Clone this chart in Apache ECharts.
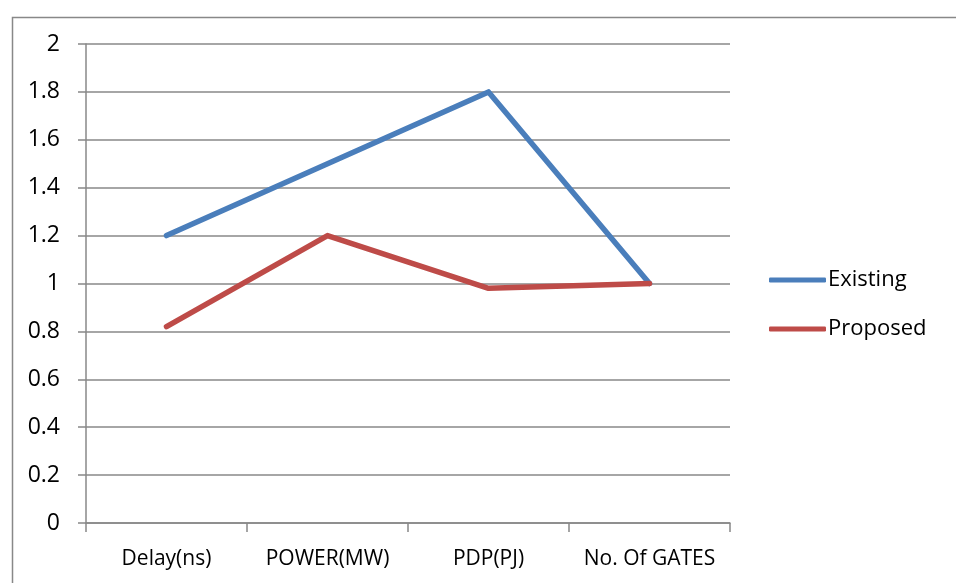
<!DOCTYPE html>
<html>
<head>
<meta charset="utf-8">
<script src="https://cdn.jsdelivr.net/npm/echarts@6/dist/echarts.min.js"></script>
<style>html,body{margin:0;padding:0;background:#fff}#c{width:956px;height:583px}</style>
</head>
<body>
<div id="c"></div>
<script>
var categories = ['Delay(ns)', 'POWER(MW)', 'PDP(PJ)', 'No. Of GATES'];
var existing = [1.2, 1.5, 1.8, 1.0];
var proposed = [0.82, 1.2, 0.98, 1.0];
var yTicks = [0, 0.2, 0.4, 0.6, 0.8, 1, 1.2, 1.4, 1.6, 1.8, 2];

var chart = echarts.init(document.getElementById('c'));
var font = '"Open Sans", "Liberation Sans", sans-serif';
chart.setOption({
  animation: false,
  backgroundColor: '#fff',
  graphic: [{
    type: 'rect', left: 10, top: 15,
    shape: { x: 0, y: 0, width: 1000, height: 700 },
    style: { fill: 'none', stroke: '#888', lineWidth: 1.5 }
  }],
  grid: { left: 86, top: 44, right: 226, bottom: 60, containLabel: false },
  legend: {
    orient: 'vertical', left: 764, top: 264,
    itemWidth: 57, itemHeight: 5, itemGap: 27,
    icon: 'roundRect',
    textStyle: { fontFamily: font, fontSize: 22, color: '#000', padding: [0,0,0,-3] },
    data: ['Existing', 'Proposed']
  },
  xAxis: {
    type: 'category', data: categories, boundaryGap: true,
    axisLine: { lineStyle: { color: '#888', width: 1.5 } },
    axisTick: { show: true, length: 9, lineStyle: { color: '#888', width: 1.5 } },
    axisLabel: { interval: 0, hideOverlap: false, margin: 26, fontFamily: font, fontSize: 21, color: '#000' }
  },
  yAxis: {
    type: 'value', min: 0, max: 2, interval: 0.2,
    axisLine: { show: true, lineStyle: { color: '#888', width: 1.5 } },
    axisTick: { show: true, length: 8, lineStyle: { color: '#888', width: 1.5 } },
    splitLine: { show: true, lineStyle: { color: '#888', width: 1.5 } },
    axisLabel: { margin: 26, fontFamily: font, fontSize: 23, color: '#000',
      formatter: function (v) { return String(Math.round(v * 10) / 10); } }
  },
  series: [
    { name: 'Existing', type: 'line', data: existing, symbol: 'none',
      color: '#4a7ebb', lineStyle: { width: 5.5, color: '#4a7ebb', cap: 'round', join: 'round' } },
    { name: 'Proposed', type: 'line', data: proposed, symbol: 'none',
      color: '#be4b48', lineStyle: { width: 5.5, color: '#be4b48', cap: 'round', join: 'round' } }
  ]
});
</script>
</body>
</html>
